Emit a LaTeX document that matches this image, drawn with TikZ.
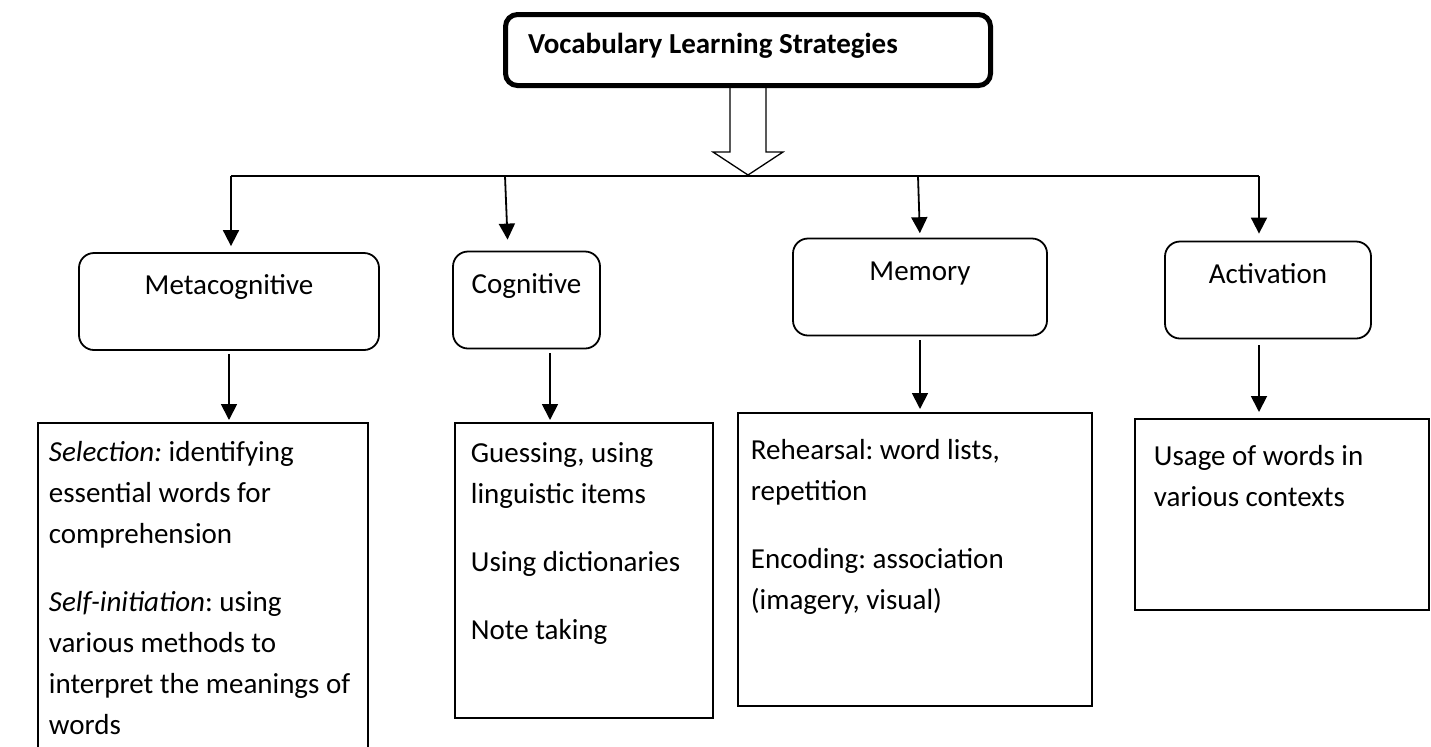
\documentclass[tikz,border=0pt]{standalone}
\usepackage{fontspec}
\setmainfont{Carlito}
\usetikzlibrary{arrows.meta}
\frenchspacing

\begin{document}
\begin{tikzpicture}[x=0.5pt, y=-0.5pt, line width=0.9pt,
    txt/.style={font=\fontsize{14.5pt}{20.5pt}\selectfont},
    arr/.style={-{Triangle[length=8pt,width=8pt]}},
    catbox/.style={txt, draw, rounded corners=7.5pt, minimum height=48.5pt,
        text height=10pt, text depth=17pt},
    listbox/.style={draw, anchor=north west, outer sep=0pt},
    listtext/.style={txt, anchor=north west, inner sep=0pt, align=left}]
    \useasboundingbox (0,0) rectangle (1431,746);

    % top box and hollow arrow
    \node[draw, line width=2.5pt, rounded corners=6pt, minimum height=35.5pt,
        inner xsep=11.25pt, text height=10pt, text depth=6.6pt,
        font=\fontsize{14.5pt}{20.5pt}\selectfont\bfseries]
        (title) at (748,50) {\makebox[220pt][l]{Vocabulary Learning Strategies}};
    \draw[line width=0.65pt] ([xshift=-9pt]title.south) -- ++(0,64) -- ++(-17,0)
        -- ++(35,23) -- ++(35,-23) -- ++(-17,0) -- ([xshift=9pt]title.south);

    % categories
    \node[catbox, minimum width=150pt] (meta) at (229,301.5) {Metacognitive};
    \node[catbox, minimum width=73.5pt] (cog) at (526.5,300) {Cognitive};
    \node[catbox, minimum width=127pt] (mem) at (920,287) {Memory};
    \node[catbox, minimum width=103pt] (act) at (1268,290) {Activation};

    % bar with drops
    \coordinate (barL) at (231,176);
    \coordinate (barC) at (505,176);
    \coordinate (barM) at (918,176);
    \coordinate (barR) at (1259,176);
    \draw (barL) -- (barR);
    \draw[arr, shorten >=3pt] (barL) -- (barL |- meta.north);
    \draw[arr, shorten >=5.5pt] (barC) -- ([xshift=-9.25pt]cog.north);
    \draw[arr, shorten >=2.2pt] (barM) -- (mem.north);
    \draw[arr, shorten >=3.5pt] (barR) -- (barR |- act.north);

    % lists
    \node[listbox, minimum width=165pt, minimum height=180pt] (sel) at (38,423) {};
    \node[listbox, minimum width=129pt, minimum height=147.5pt] (cogl) at (455,423) {};
    \node[listbox, minimum width=177pt, minimum height=146.5pt] (meml) at (738,413) {};
    \node[listbox, minimum width=147pt, minimum height=95.5pt] (actl) at (1135,419) {};

    \node[listtext] (sel-t) at (48,440) {\textit{Selection:} identifying\\
        essential words for\\ comprehension\\[13.5pt]
        \textit{Self-initiation}: using\\ various methods to\\
        interpret the meanings of\\ words};
    \node[listtext] (cogl-t) at (470,442) {Guessing, using\\ linguistic items\\[13.5pt]
        Using dictionaries\\[13.5pt] Note taking};
    \node[listtext] (meml-t) at (750,438) {Rehearsal: word lists,\\ repetition\\[13.5pt]
        Encoding: association\\ (imagery, visual)};
    \node[listtext] (actl-t) at (1153,444) {Usage of words in\\ various contexts};

    \draw[arr, shorten <=1.5pt, shorten >=1.5pt] (meta.south) -- (meta.south |- sel.north);
    \draw[arr, shorten <=2pt, shorten >=1.5pt] ([xshift=11.75pt]cog.south)
        -- ([xshift=11.75pt]cog.south |- cogl.north);
    \draw[arr, shorten <=2pt, shorten >=2pt] (mem.south) -- (mem.south |- meml.north);
    \draw[arr, shorten <=3pt, shorten >=3.5pt] (barR |- act.south) -- (barR |- actl.north);
\end{tikzpicture}
\end{document}
